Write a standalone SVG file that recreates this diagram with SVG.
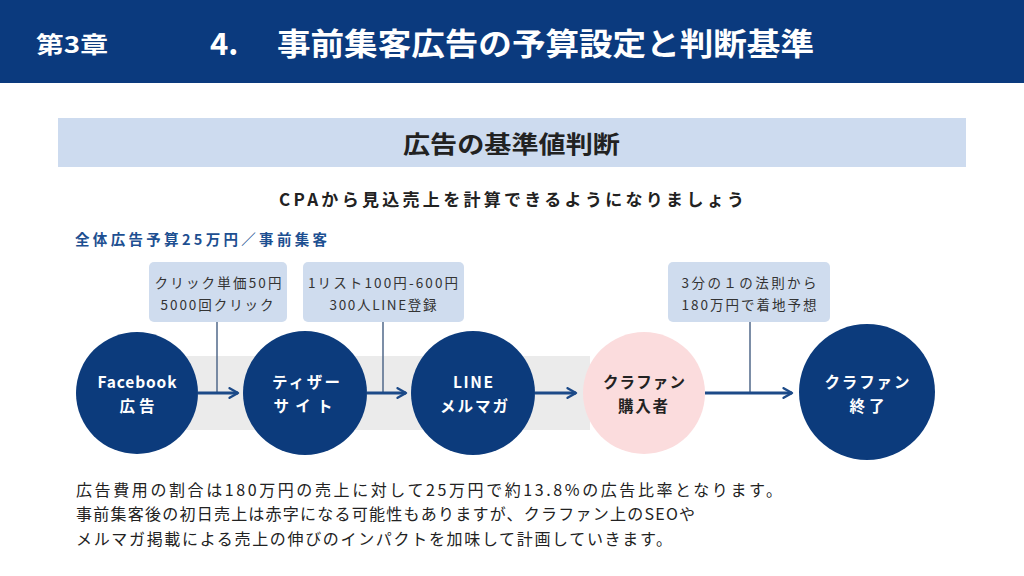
<svg xmlns="http://www.w3.org/2000/svg" width="1024" height="576" viewBox="0 0 1024 576">
<style>
text{font-family:"Noto Sans CJK JP","Noto Sans",sans-serif;}
.hdr{fill:#fff;font-weight:bold;}
.node{fill:#0c3b7c;}
.ntxt{fill:#fff;font-size:15.5px;font-weight:bold;text-anchor:middle;}
.dark{fill:#222;}
.box{fill:#cfdcee;}
.btxt{fill:#333;font-size:13.5px;text-anchor:middle;}
.lead{stroke:#51698a;stroke-width:1.5;fill:none;}
.arr{stroke:#1c4a88;stroke-width:3;fill:none;}
.body{fill:#222;font-size:16px;}
</style>
<defs>
<marker id="ah" viewBox="0 0 10 10" refX="8" refY="5" markerWidth="4" markerHeight="4" orient="auto" markerUnits="strokeWidth">
<path d="M1,1 L8,5 L1,9" fill="none" stroke="#1c4a88" stroke-width="2" stroke-linecap="round" stroke-linejoin="round"/>
</marker>
</defs>
<rect x="0" y="0" width="1024" height="83" fill="#0b3a7e"/>
<text class="hdr" x="36" y="53" font-size="23" textLength="72" lengthAdjust="spacingAndGlyphs">第3章</text>
<text class="hdr" x="210" y="55" font-size="31">4.</text>
<text class="hdr" x="277" y="55" font-size="31" textLength="537" lengthAdjust="spacingAndGlyphs">事前集客広告の予算設定と判断基準</text>
<rect x="58" y="118" width="908" height="49" fill="#cddbef"/>
<text x="403" y="153" font-size="24" font-weight="bold" fill="#222" textLength="217" lengthAdjust="spacingAndGlyphs">広告の基準値判断</text>
<text x="279" y="206" font-size="17" font-weight="bold" fill="#222" textLength="465" lengthAdjust="spacing">CPAから見込売上を計算できるようになりましょう</text>
<text x="75" y="245" font-size="14.5" font-weight="bold" fill="#1d4f91" textLength="252" lengthAdjust="spacing">全体広告予算25万円／事前集客</text>
<rect x="120" y="356" width="470" height="74" fill="#ebebeb"/>
<g id="callouts">
<rect class="box" x="149" y="262" width="138" height="60" rx="5"/>
<text class="btxt" x="218" y="288" textLength="127" lengthAdjust="spacing">クリック単価50円</text>
<text class="btxt" x="217" y="310" textLength="113" lengthAdjust="spacing">5000回クリック</text>
<rect class="box" x="303" y="262" width="161" height="60" rx="5"/>
<text class="btxt" x="383" y="288" textLength="150" lengthAdjust="spacing">1リスト100円-600円</text>
<text class="btxt" x="383" y="310" textLength="107" lengthAdjust="spacing">300人LINE登録</text>
<rect class="box" x="668" y="262" width="162" height="60" rx="5"/>
<text class="btxt" x="749" y="288" textLength="135" lengthAdjust="spacing">3分の１の法則から</text>
<text class="btxt" x="749" y="310" textLength="135" lengthAdjust="spacing">180万円で着地予想</text>
</g>
<g id="connectors">
<line class="lead" x1="217" y1="322" x2="217" y2="393"/>
<line class="lead" x1="383" y1="322" x2="383" y2="393"/>
<line class="lead" x1="750" y1="322" x2="750" y2="393"/>
<line class="arr" x1="198" y1="393" x2="238" y2="393" marker-end="url(#ah)"/>
<line class="arr" x1="367" y1="393" x2="406" y2="393" marker-end="url(#ah)"/>
<line class="arr" x1="535" y1="393" x2="576" y2="393" marker-end="url(#ah)"/>
<line class="arr" x1="705" y1="393" x2="792" y2="393" marker-end="url(#ah)"/>
</g>
<g id="n1"><circle class="node" cx="137" cy="393" r="61"/>
<text class="ntxt" x="137" y="388" textLength="79" lengthAdjust="spacing">Facebook</text><text class="ntxt" x="137" y="412" textLength="35" lengthAdjust="spacing">広告</text></g>
<g id="n2"><circle class="node" cx="305" cy="393" r="62"/>
<text class="ntxt" x="306" y="388" textLength="68" lengthAdjust="spacing">ティザー</text><text class="ntxt" x="303" y="412" textLength="59" lengthAdjust="spacing">サイト</text></g>
<g id="n3"><circle class="node" cx="473" cy="393" r="62"/>
<text class="ntxt" x="473" y="388" textLength="40" lengthAdjust="spacing">LINE</text><text class="ntxt" x="474" y="412" textLength="68" lengthAdjust="spacing">メルマガ</text></g>
<g id="n4"><circle cx="644" cy="393" r="61" fill="#fbdcdd"/>
<text class="ntxt dark" x="644" y="388" textLength="82" lengthAdjust="spacing">クラファン</text><text class="ntxt dark" x="643" y="412" textLength="50" lengthAdjust="spacing">購入者</text></g>
<g id="n5"><circle class="node" cx="867" cy="392" r="68"/>
<text class="ntxt" x="867" y="388" textLength="85" lengthAdjust="spacing">クラファン</text><text class="ntxt" x="867" y="412" textLength="35" lengthAdjust="spacing">終了</text></g>
<text class="body" x="76" y="496" textLength="706" lengthAdjust="spacing">広告費用の割合は180万円の売上に対して25万円で約13.8%の広告比率となります。</text>
<text class="body" x="76" y="520" textLength="619" lengthAdjust="spacing">事前集客後の初日売上は赤字になる可能性もありますが、クラファン上のSEOや</text>
<text class="body" x="76" y="545" textLength="596" lengthAdjust="spacing">メルマガ掲載による売上の伸びのインパクトを加味して計画していきます。</text>
</svg>
